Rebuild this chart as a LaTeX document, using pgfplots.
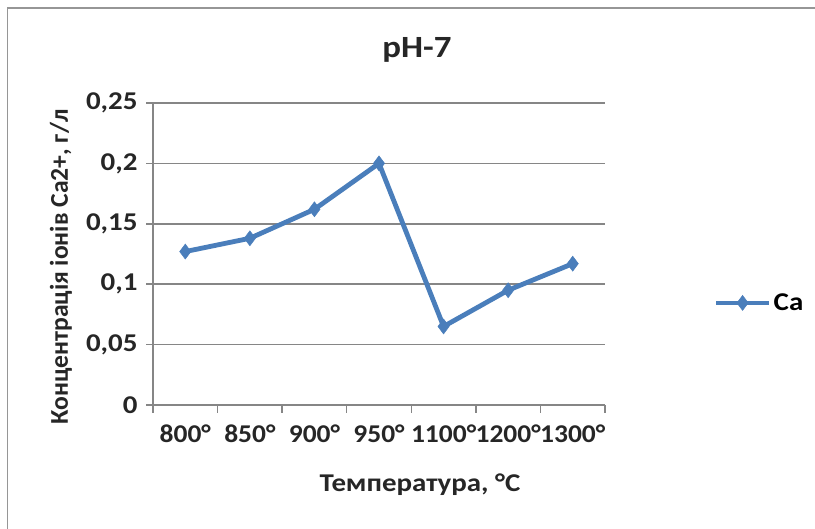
\documentclass[border=0pt]{standalone}
\usepackage{pgfplots}
\pgfplotsset{compat=1.18}
\usepackage{fontspec}
\setmainfont{Carlito}
\definecolor{serblue}{RGB}{74,126,187}
\definecolor{gridgray}{RGB}{134,134,134}
\definecolor{framegray}{RGB}{150,150,150}
\newcommand{\lblfont}{\fontsize{25.7}{29}\selectfont\bfseries}

\begin{document}
\begin{tikzpicture}[x=1bp,y=1bp]
\useasboundingbox (0,0) rectangle (815,529);
% outer chart frame
\draw[framegray, line width=1.5bp] (7.5,-2) -- (7.5,521) -- (817,521);
\begin{axis}[
  scale only axis, width=452bp, height=302bp,
  anchor=south west, at={(153bp,124bp)},
  xmin=-0.5, xmax=6.5, ymin=0, ymax=0.25,
  axis lines*=left,
  axis line style={gridgray, line width=1.5bp, -},
  xtick={0,...,6},
  xticklabels={800°,850°,900°,950°,1100°,1200°,1300°},
  minor xtick={-0.5,0.5,...,6.5},
  ytick={0,0.05,0.1,0.15,0.2,0.25},
  yticklabels={0,{0,05},{0,1},{0,15},{0,2},{0,25}},
  tick align=outside,
  major tick length=7bp, minor tick length=8bp,
  x tick style={draw=none},
  minor x tick style={draw=gridgray, line width=1.5bp},
  y tick style={draw=gridgray, line width=1.5bp},
  ymajorgrids,
  major grid style={gridgray, line width=1.5bp},
  ticklabel style={font=\lblfont, text=black!85, xscale=1.13},
  /pgf/number format/assume math mode=true,
  yticklabel style={xshift=-4bp},
  xticklabel style={yshift=-9bp, xscale=0.95, inner xsep=0pt},
  legend style={at={(axis description cs:1.24,0.338)}, anchor=west, draw=none,
    font=\lblfont, inner sep=0pt},
  legend cell align=left,
  legend image code/.code={
    \draw[#1, mark=none] (0bp,0bp) -- (53bp,0bp);
    \draw[#1, only marks] plot coordinates {(26.5bp,0bp)};
  },
]
\addplot[serblue, line width=4.8bp, mark=diamond*, mark size=7.5bp,
  mark options={solid, fill=serblue, line width=0.5bp}]
  coordinates {(0,0.127) (1,0.138) (2,0.162) (3,0.200) (4,0.065) (5,0.095) (6,0.117)};
\addlegendentry[xscale=1.13]{Ca}
\end{axis}
% titles
\node[font=\fontsize{31}{35}\selectfont\bfseries, text=black!85, xscale=1.13] at (417,479) {pH-7};
\node[font=\lblfont, text=black!85, xscale=1.13] at (420,44) {Температура, °C};
\node[font=\lblfont, text=black!85, rotate=90] at (61,262) {Концентрація іонів Ca2+, г/л};
\end{tikzpicture}
\end{document}
